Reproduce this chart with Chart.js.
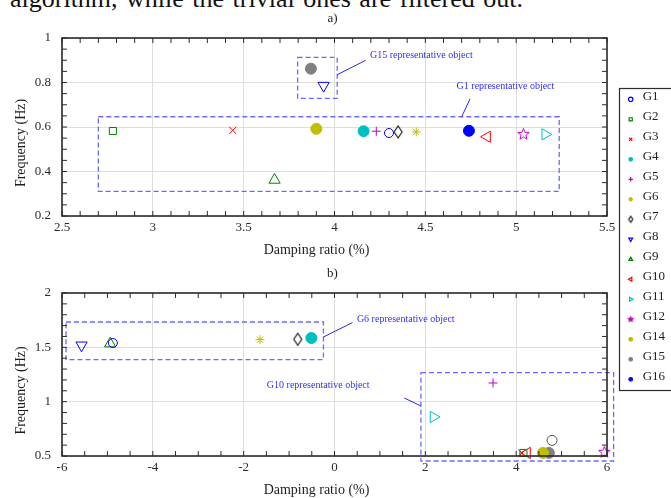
<!DOCTYPE html>
<html lang="en">
  <head>
    <meta charset="UTF-8" />
    <title>Representative objects</title>
    <script src="https://cdn.jsdelivr.net/npm/chart.js"></script>
    <style>
      body {
        margin: 0;
        background: #ffffff;
        width: 671px;
        height: 498px;
        overflow: hidden;
        position: relative;
        font-family: "Liberation Serif", "Times New Roman", serif;
      }
      #caption {
        position: absolute;
        left: 10px;
        top: -14px;
        font-size: 26px;
        line-height: 26px;
        word-spacing: 2px;
        white-space: nowrap;
        color: #111;
      }
      #chartA {
        position: absolute;
        left: 0;
        top: 0;
      }
      #chartB {
        position: absolute;
        left: 0;
        top: 230px;
      }
    </style>
    <script>
      const groups = ["G1", "G2", "G3", "G4", "G5", "G6", "G7", "G8", "G9", "G10", "G11", "G12", "G14", "G15", "G16"];

      // a) damping ratio (%) / frequency (Hz) per group
      const dampA = [4.30, 2.78, 3.44, 4.16, 4.23, 4.45, 4.35, 3.94, 3.67, 4.84, 5.16, 5.04, 3.90, 3.87, 4.74];
      const freqA = [0.573, 0.582, 0.585, 0.581, 0.581, 0.578, 0.578, 0.786, 0.362, 0.556, 0.567, 0.567, 0.592, 0.862, 0.583];

      // b) (no G16 point here)
      const dampB = [-4.88, 4.16, 4.13, -0.51, 3.49, -1.64, -0.81, -5.57, -4.94, 4.24, 2.18, 5.94, 4.59, 4.72, null];
      const freqB = [1.540, 0.528, 0.528, 1.586, 1.172, 1.571, 1.574, 1.519, 1.534, 0.528, 0.859, 0.534, 0.528, 0.528, null];
      // open grey circle in b) that is not in the legend
      const dampB_extra = [4.79];
      const freqB_extra = [0.644];

      const xTicksA = [2.5, 3, 3.5, 4, 4.5, 5, 5.5];
      const yTicksA = [0.2, 0.4, 0.6, 0.8, 1];
      const xTicksB = [-6, -4, -2, 0, 2, 4, 6];
      const yTicksB = [0.5, 1, 1.5, 2];

      // dashed boxes [x0, x1, y0, y1], notes and leader lines, in data units
      const boxesA = [[3.797, 4.015, 0.729, 0.913], [2.700, 5.237, 0.311, 0.646]];
      const notesA = ["G15 representative object", "G1 representative object"];
      const noteAtA = [[4.195, 0.920], [4.672, 0.784]];
      const leadersA = [[4.015, 0.835, 4.172, 0.900], [4.700, 0.646, 4.746, 0.726]];

      const boxesB = [[-5.912, -0.243, 1.387, 1.733], [1.903, 6.146, 0.454, 1.267]];
      const notesB = ["G6 representative object", "G10 representative object"];
      const noteAtB = [[0.493, 1.761], [-1.490, 1.148]];
      const leadersB = [[-0.243, 1.595, 0.396, 1.728], [1.535, 1.034, 1.903, 0.960]];

      const SERIF = '"Liberation Serif", "Times New Roman", serif';
      const INK = "#1e1e1e";

      const marks = {
        G1: { shape: "circle", color: "#0000ff", r: 4.5 },
        G2: { shape: "rect", color: "#008000", r: 5 },
        G3: { shape: "crossRot", color: "#ff0000", r: 5 },
        G4: { shape: "circle", color: "#00bfbf", r: 5.5, fill: true },
        G5: { shape: "cross", color: "#bf00bf", r: 4.5 },
        G6: { shape: "star", color: "#bfbf00", r: 4.5 },
        G7: { shape: "diamond", color: "#1a1a1a" },
        G8: { shape: "triangle", rot: 180, color: "#0000ff", r: 6.5 },
        G9: { shape: "triangle", color: "#008000", r: 6.5 },
        G10: { shape: "triangle", rot: -90, color: "#ff0000", r: 6.5 },
        G11: { shape: "triangle", rot: 90, color: "#00bfbf", r: 6.5 },
        G12: { shape: "pentagram", color: "#bf00bf" },
        G14: { shape: "circle", color: "#bfbf00", r: 5.5, fill: true },
        G15: { shape: "circle", color: "#808080", r: 5.5, fill: true },
        G16: { shape: "circle", color: "#0000ff", r: 5.5, fill: true },
      };

      function starImg(R, color, fill) {
        const c = document.createElement("canvas");
        c.width = c.height = Math.ceil(2 * R + 3);
        const g = c.getContext("2d");
        const cx = c.width / 2, cy = c.height / 2;
        g.beginPath();
        for (let i = 0; i < 10; i++) {
          const rr = i % 2 ? R * 0.42 : R;
          const a = -Math.PI / 2 + (i * Math.PI) / 5;
          g.lineTo(cx + rr * Math.cos(a), cy + rr * Math.sin(a));
        }
        g.closePath();
        g.strokeStyle = color;
        g.lineWidth = 1;
        if (fill) { g.fillStyle = color; g.fill(); }
        g.stroke();
        return c;
      }

      function diamondImg(w, h, color) {
        const c = document.createElement("canvas");
        c.width = w + 4;
        c.height = h + 4;
        const g = c.getContext("2d");
        const cx = c.width / 2, cy = c.height / 2;
        g.beginPath();
        g.moveTo(cx, cy - h / 2);
        g.lineTo(cx + w / 2, cy);
        g.lineTo(cx, cy + h / 2);
        g.lineTo(cx - w / 2, cy);
        g.closePath();
        g.strokeStyle = color;
        g.lineWidth = 1.2;
        g.stroke();
        return c;
      }

      function styleFor(g, small) {
        const m = marks[g];
        if (m.shape === "diamond") return small ? diamondImg(4, 6, m.color) : diamondImg(8, 12, m.color);
        if (m.shape === "pentagram") return small ? starImg(3, m.color, true) : starImg(6, m.color, false);
        return m.shape;
      }

      function buildSets(xs, ys) {
        return groups.map((g, i) => {
          const m = marks[g];
          return {
            label: g,
            data: xs[i] == null ? [] : [{ x: xs[i], y: ys[i] }],
            pointStyle: styleFor(g, false),
            pointRadius: m.r || 5,
            pointRotation: m.rot || 0,
            pointBorderColor: m.color,
            pointBackgroundColor: m.fill ? m.color : "rgba(0,0,0,0)",
            pointBorderWidth: 1,
            clip: false,
          };
        });
      }

      function tickLine(ctx, x0, y0, x1, y1) {
        ctx.beginPath();
        ctx.moveTo(x0, y0);
        ctx.lineTo(x1, y1);
        ctx.stroke();
      }

      const panelPlugin = {
        id: "panel",
        afterDatasetsDraw(chart, args, o) {
          const { ctx, chartArea: a } = chart;
          const x = chart.scales.x, y = chart.scales.y;
          ctx.save();

          // dashed boxes
          ctx.strokeStyle = "#6a6aff";
          ctx.lineWidth = 1.3;
          ctx.setLineDash([5, 3]);
          o.boxes.forEach(([x0, x1, y0, y1]) => {
            const L = x.getPixelForValue(x0), R = x.getPixelForValue(x1);
            const T = y.getPixelForValue(y1), B = y.getPixelForValue(y0);
            ctx.strokeRect(L, T, R - L, B - T);
          });
          ctx.setLineDash([]);
          ctx.strokeStyle = "#2626ff";
          ctx.lineWidth = 1;
          o.leaders.forEach(([x0, y0, x1, y1]) =>
            tickLine(ctx, x.getPixelForValue(x0), y.getPixelForValue(y0), x.getPixelForValue(x1), y.getPixelForValue(y1))
          );
          ctx.fillStyle = "#2f2fff";
          ctx.font = "10px " + SERIF;
          ctx.textAlign = "left";
          ctx.textBaseline = "middle";
          o.notes.forEach((t, i) =>
            ctx.fillText(t, x.getPixelForValue(o.noteAt[i][0]), y.getPixelForValue(o.noteAt[i][1]))
          );

          // frame with inward ticks on all sides
          ctx.strokeStyle = "#2b2b2b";
          ctx.lineWidth = 1.6;
          ctx.strokeRect(a.left, a.top, a.right - a.left, a.bottom - a.top);
          ctx.lineWidth = 1;
          const tl = 5;
          const nx = Math.round((x.max - x.min) / o.xMinor);
          for (let i = 0; i <= nx; i++) {
            const px = x.getPixelForValue(x.min + i * o.xMinor);
            tickLine(ctx, px, a.bottom, px, a.bottom - tl);
            tickLine(ctx, px, a.top, px, a.top + tl);
          }
          const ny = Math.round((y.max - y.min) / o.yMinor);
          for (let i = 0; i <= ny; i++) {
            const py = y.getPixelForValue(y.min + i * o.yMinor);
            tickLine(ctx, a.left, py, a.left + tl, py);
            tickLine(ctx, a.right, py, a.right - tl, py);
          }

          // panel letter and axis titles
          ctx.fillStyle = INK;
          ctx.textAlign = "center";
          ctx.font = "13px " + SERIF;
          ctx.fillText(o.panel, (a.left + a.right) / 2 - 2, a.top - 19);
          ctx.font = "14px " + SERIF;
          ctx.fillText("Damping ratio (%)", (a.left + a.right) / 2 - 18, a.bottom + 34);
          ctx.translate(21, (a.top + a.bottom) / 2 + 16);
          ctx.rotate(-Math.PI / 2);
          ctx.fillText("Frequency (Hz)", 0, 0);
          ctx.restore();
        },
      };

      const sideLegend = {
        id: "sideLegend",
        afterDraw(chart, args, o) {
          if (!o.show) return;
          const ctx = chart.ctx;
          ctx.save();
          ctx.strokeStyle = "#2b2b2b";
          ctx.lineWidth = 1.2;
          ctx.strokeRect(619.5, 88.5, 70, 302);
          groups.forEach((g, i) => {
            const m = marks[g];
            const yy = 99.3 + i * 20;
            ctx.strokeStyle = m.color;
            ctx.fillStyle = m.fill ? m.color : "rgba(0,0,0,0)";
            Chart.helpers.drawPoint(
              ctx,
              { pointStyle: styleFor(g, true), radius: m.fill ? 1.8 : 2.2, rotation: m.rot || 0, borderWidth: 1 },
              630.7,
              yy
            );
            ctx.fillStyle = INK;
            ctx.font = "13px " + SERIF;
            ctx.textAlign = "left";
            ctx.textBaseline = "middle";
            ctx.fillText(g, 642.7, yy - 3);
          });
          ctx.restore();
        },
      };

      function axis(ticks, extra) {
        return Object.assign(
          {
            type: "linear",
            min: ticks[0],
            max: ticks[ticks.length - 1],
            afterBuildTicks: (s) => {
              s.ticks = ticks.map((v) => ({ value: v }));
            },
            ticks: {
              callback: (v) => String(v),
              font: { family: SERIF, size: 13 },
              color: "#2b2b2b",
              autoSkip: false,
              maxRotation: 0,
            },
            grid: { color: "#dedede", lineWidth: 1, drawTicks: false },
            border: { display: false },
          },
          extra
        );
      }

      function makeChart(id, datasets, xt, yt, padding, panelOpts, legendOn) {
        const xs = axis(xt, { afterFit: (s) => { s.height = 42; } });
        xs.ticks.padding = 4;
        const ys = axis(yt, { afterFit: (s) => { s.width = 62; } });
        ys.ticks.padding = 11;
        return new Chart(document.getElementById(id), {
          type: "scatter",
          data: { datasets },
          options: {
            responsive: false,
            devicePixelRatio: 1,
            animation: false,
            layout: { padding },
            scales: { x: xs, y: ys },
            plugins: {
              legend: { display: false },
              tooltip: { enabled: false },
              panel: panelOpts,
              sideLegend: { show: legendOn },
            },
          },
          plugins: [panelPlugin, sideLegend],
        });
      }

      window.onload = () => {
        makeChart(
          "chartA",
          buildSets(dampA, freqA),
          xTicksA,
          yTicksA,
          { left: 0, right: 64, top: 38, bottom: 142 },
          { panel: "a)", boxes: boxesA, notes: notesA, noteAt: noteAtA, leaders: leadersA, xMinor: 0.1, yMinor: 0.05 },
          true
        );

        const setsB = buildSets(dampB, freqB);
        setsB.push({
          label: "G13",
          data: dampB_extra.map((v, i) => ({ x: v, y: freqB_extra[i] })),
          pointStyle: "circle",
          pointRadius: 5,
          pointBorderColor: "#555555",
          pointBackgroundColor: "rgba(0,0,0,0)",
          pointBorderWidth: 1,
          clip: false,
        });
        makeChart(
          "chartB",
          setsB,
          xTicksB,
          yTicksB,
          { left: 0, right: 64, top: 63, bottom: 0 },
          { panel: "b)", boxes: boxesB, notes: notesB, noteAt: noteAtB, leaders: leadersB, xMinor: 0.5, yMinor: 0.1 },
          false
        );
      };
    </script>
  </head>
  <body>
    <div id="caption">algorithm, while the trivial ones are filtered out.</div>
    <canvas id="chartA" width="671" height="400"></canvas>
    <canvas id="chartB" width="671" height="268"></canvas>
  </body>
</html>
